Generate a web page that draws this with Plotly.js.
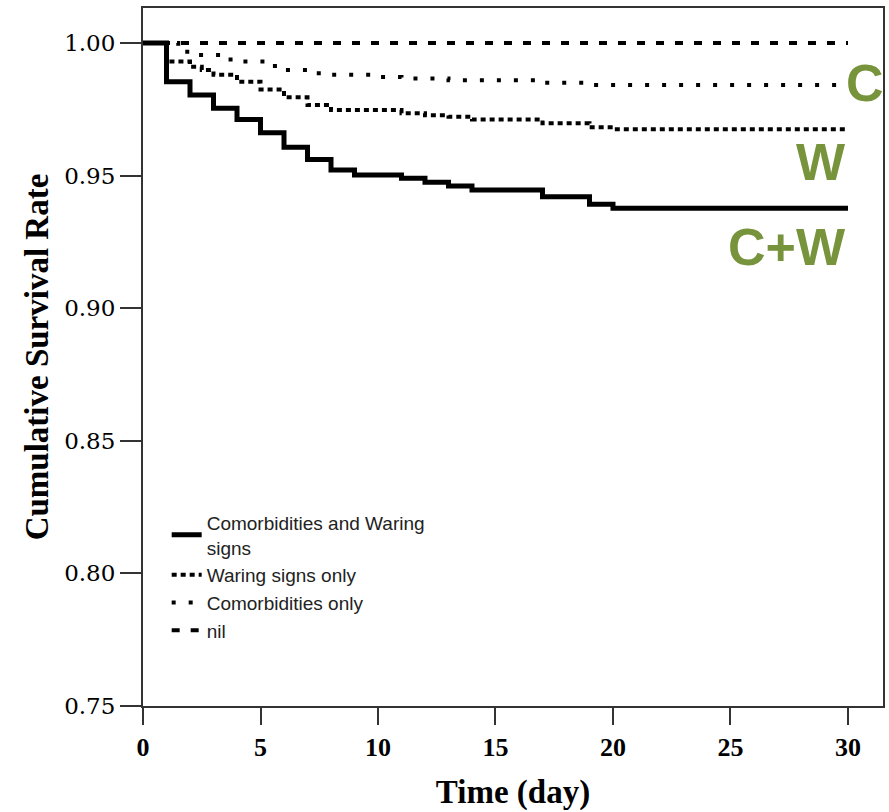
<!DOCTYPE html>
<html>
<head>
<meta charset="utf-8">
<script src="https://cdn.plot.ly/plotly-3.0.1.min.js"></script>
<style>html,body{margin:0;padding:0;background:#fff;}#chart{width:889px;height:812px;}</style>
</head>
<body>
<div id="chart"></div>
<script>
// Kaplan-Meier step curves
const cwTime  = [0, 1, 2, 3, 4, 5, 6, 7, 8, 9, 11, 12, 13, 14, 17, 19, 20, 30];
const cwSurv  = [1.0, 0.9854, 0.9804, 0.9754, 0.9712, 0.9662, 0.9607, 0.9561, 0.9521, 0.9502, 0.9490, 0.9475, 0.9461, 0.9446, 0.9420, 0.9392, 0.9377, 0.9377];

const wTime   = [0, 1, 2, 2.5, 3, 4, 5, 6, 7, 8, 11, 12, 13, 14, 17, 19, 20, 30];
const wSurv   = [1.0, 0.9930, 0.9910, 0.9898, 0.9880, 0.9854, 0.9825, 0.9795, 0.9766, 0.9747, 0.9735, 0.9728, 0.9722, 0.9712, 0.9697, 0.9682, 0.9675, 0.9675];

const cTime   = [0, 1.5, 2, 3.5, 4, 5.2, 6, 7, 8, 10, 11, 13, 17, 19, 30];
const cSurv   = [1.0, 0.9967, 0.9955, 0.9938, 0.9930, 0.9913, 0.9898, 0.9886, 0.9880, 0.9872, 0.9866, 0.9860, 0.9850, 0.9842, 0.9842];

const nilTime = [0, 30];
const nilSurv = [1.0, 1.0];

const seriesNames = ["Comorbidities and Waring<br>signs", "Waring signs only", "Comorbidities only", "nil"];
const xTicks = [0, 5, 10, 15, 20, 25, 30];
const yTicks = [0.75, 0.80, 0.85, 0.90, 0.95, 1.00];
const yTickText = ["0.75", "0.80", "0.85", "0.90", "0.95", "1.00"];
const groupLabels = ["C", "W", "C+W"];

const green = "#77933C";

const traces = [
  {x: cwTime, y: cwSurv, name: seriesNames[0], mode: "lines",
   line: {shape: "hv", color: "#000", width: 5, dash: "solid"}},
  {x: wTime, y: wSurv, name: seriesNames[1], mode: "lines",
   line: {shape: "hv", color: "#000", width: 4, dash: "5px,4px"}},
  {x: cTime, y: cSurv, name: seriesNames[2], mode: "lines",
   line: {shape: "hv", color: "#000", width: 4, dash: "4px,13px"}},
  {x: nilTime, y: nilSurv, name: seriesNames[3], mode: "lines",
   line: {shape: "hv", color: "#000", width: 4, dash: "8px,11px"}}
];

const labelFont = {family: "Liberation Sans, Arial, sans-serif", size: 52, color: green, weight: "bold"};

const layout = {
  width: 889, height: 812,
  margin: {l: 143, r: 6, t: 8, b: 106, pad: 0},
  paper_bgcolor: "#fff", plot_bgcolor: "#fff",
  showlegend: true,
  legend: {
    x: 0.032, y: 0.29, xanchor: "left", yanchor: "top",
    bgcolor: "rgba(0,0,0,0)", borderwidth: 0,
    font: {family: "Liberation Sans, Arial, sans-serif", size: 19, color: "#222"},
    traceorder: "normal", tracegroupgap: 0
  },
  xaxis: {
    range: [0, 31.49], tickvals: xTicks, ticktext: xTicks.map(String),
    showgrid: false, zeroline: false,
    showline: true, linecolor: "#333", linewidth: 2, mirror: true,
    ticks: "outside", ticklen: 17, tickwidth: 2, tickcolor: "#333",
    tickfont: {family: "Liberation Serif, Times New Roman, serif", size: 26, color: "#000", weight: "bold"},
    title: {text: "Time (day)", standoff: 19,
      font: {family: "Liberation Serif, Times New Roman, serif", size: 33, color: "#000", weight: "bold"}}
  },
  yaxis: {
    range: [0.75, 1.0132], tickvals: yTicks, ticktext: yTickText,
    showgrid: false, zeroline: false,
    showline: true, linecolor: "#333", linewidth: 2, mirror: true,
    ticks: "outside", ticklen: 21, tickwidth: 2, tickcolor: "#333",
    tickfont: {family: "DejaVu Serif, serif", size: 23, color: "#000"},
    title: {text: "Cumulative Survival Rate", standoff: 6,
      font: {family: "Liberation Serif, Times New Roman, serif", size: 33, color: "#000", weight: "bold"}}
  },
  annotations: [
    {x: 29.85, y: 0.9849, xref: "x", yref: "y", text: groupLabels[0], showarrow: false,
     xanchor: "left", yanchor: "middle", font: labelFont},
    {x: 30, y: 0.9551, xref: "x", yref: "y", text: groupLabels[1], showarrow: false,
     xanchor: "right", yanchor: "middle", font: labelFont},
    {x: 30, y: 0.9231, xref: "x", yref: "y", text: groupLabels[2], showarrow: false,
     xanchor: "right", yanchor: "middle", font: labelFont}
  ]
};

Plotly.newPlot("chart", traces, layout, {displayModeBar: false, staticPlot: true});
</script>
</body>
</html>
